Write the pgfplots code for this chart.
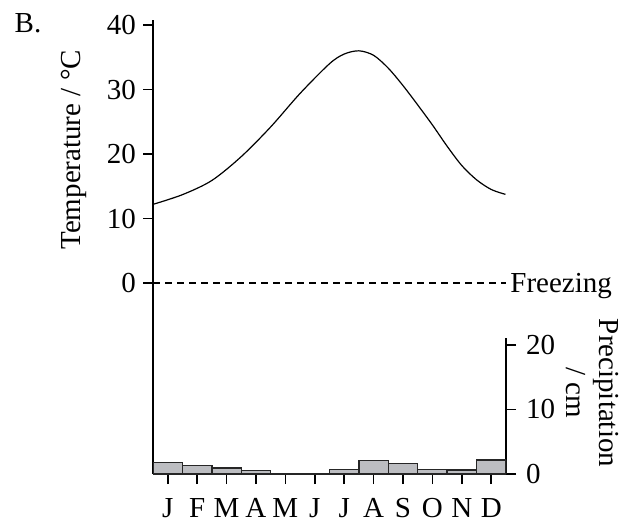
\documentclass[border=0pt]{standalone}
\usepackage{fontspec}
\setmainfont{Liberation Serif}
\usepackage{pgfplots}
\pgfplotsset{compat=1.18}

\definecolor{bargray}{RGB}{188,189,193}

% values (x in months, 0 = start of January)
\pgfplotstableread{
x     t
0     12.2
1     13.7
2     15.9
3     19.6
4     24.2
5     29.4
6     34.0
6.5   35.5
7     36.0
7.5   35.3
8     33.3
8.5   30.6
9     27.6
9.5   24.5
10    21.2
10.5  18.2
11    16.0
11.5  14.5
11.98 13.75
}\temptab

\pgfplotstableread{
x    p
0.5  1.75
1.5  1.35
2.5  0.93
3.5  0.50
4.5  0
5.5  0
6.5  0.70
7.5  2.10
8.5  1.65
9.5  0.73
10.5 0.60
11.5 2.20
}\preciptab

\pgfplotsset{
  climate/.style={
    scale only axis,
    width=176.5pt,
    xmin=0, xmax=12,
    tick align=outside,
    major tick length=5pt,
    axis line style={line width=0.8pt,-},
    major tick style={line width=0.8pt,black},
    /pgf/number format/assume math mode=true,
  }
}

\begin{document}
\begin{tikzpicture}[font=\fontsize{14.5}{16.5}\selectfont]
\useasboundingbox (-76.5pt,-24.5pt) rectangle (241pt,237pt);

% temperature
\begin{axis}[
  climate,
  height=227pt,
  ymin=-29.6, ymax=40.78,
  axis x line=none,
  axis y line*=left,
  ytick={0,10,20,30,40},
  ylabel={Temperature / °C},
  every axis y label/.style={at={(axis description cs:-0.225,0.714)},rotate=90,anchor=center},
  clip=false,
]
  \addplot[black, line width=0.6pt, smooth] table[x=x,y=t] {\temptab};
  \addplot[black, line width=0.6pt, dash pattern=on 3.7pt off 2.3pt] coordinates {(0,0) (12,0)};
  \node[anchor=base west, inner sep=2pt, yshift=-4.7pt] at (axis cs:12,0) {Freezing};
\end{axis}

% precipitation
\begin{axis}[
  climate,
  height=68pt,
  ymin=0, ymax=21.08,
  axis x line*=bottom,
  axis y line*=right,
  xtick={0.5,1.5,...,11.5},
  xticklabels={J,F,M,A,M,J,J,A,S,O,N,D},
  xticklabel style={yshift=-3.5pt},
  yticklabel style={xshift=1.5pt},
  ytick={0,10,20},
  ylabel={Precipitation\\/ cm},
  every axis y label/.style={at={(axis description cs:1.2436,0.5956)},rotate=-90,anchor=center,align=center},
]
  \addplot[ybar, bar width=1, bar shift=0pt, fill=bargray, draw=black!85, line width=0.7pt] table[x=x,y=p] {\preciptab};
\end{axis}

\node at (-62.5pt,225.5pt) {B.};
\end{tikzpicture}
\end{document}
